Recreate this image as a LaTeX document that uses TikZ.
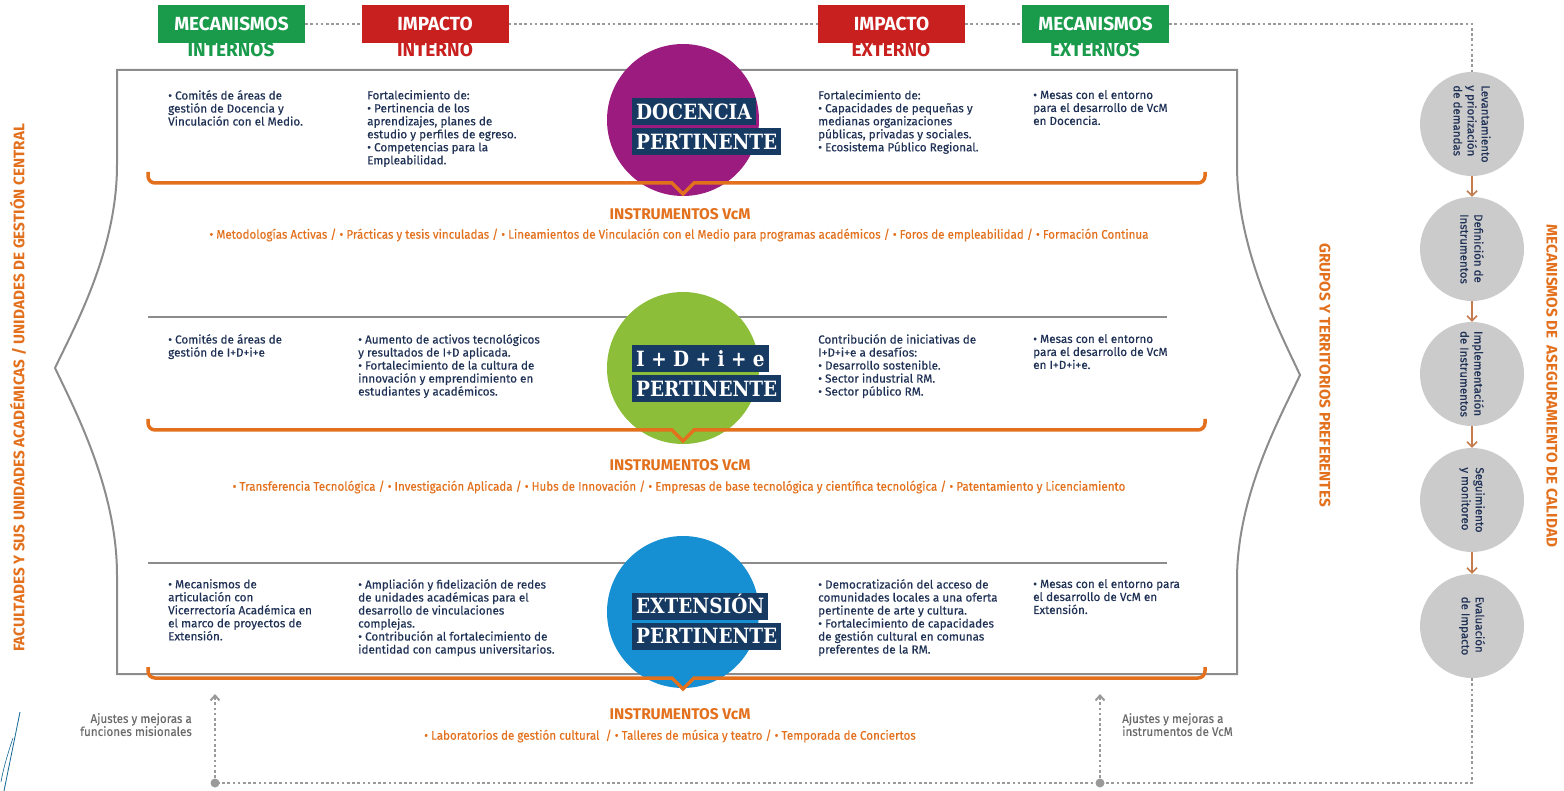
\documentclass[tikz,border=0pt]{standalone}
\usepackage{fontspec}
\setmainfont{Fira Sans}
\newfontfamily\bodyfont[FakeBold=0.4]{Fira Sans}
\newfontfamily\condfont[FakeStretch=0.93,FakeBold=0.3]{Fira Sans}
\newfontfamily\slabfont[FakeStretch=0.88]{DejaVu Serif}
\usetikzlibrary{arrows.meta,positioning}

\definecolor{navyText}{HTML}{1F3155}
\definecolor{tagNavy}{HTML}{173A63}
\definecolor{vcmOrange}{HTML}{E2701D}
\definecolor{greenHdr}{HTML}{1A9A4B}
\definecolor{redHdr}{HTML}{C8201F}
\definecolor{purpleTheme}{HTML}{9C1B7F}
\definecolor{limeTheme}{HTML}{8DBE3A}
\definecolor{blueTheme}{HTML}{1690D3}
\definecolor{stageGrey}{HTML}{CBCBCB}
\definecolor{lineGrey}{HTML}{8C8C8C}
\definecolor{dashGrey}{HTML}{9A9A9A}
\definecolor{noteGrey}{HTML}{6A6A6A}
\definecolor{arrowBrown}{HTML}{C47C4E}

\tikzset{
  hdrbox/.style={minimum width=147pt, minimum height=38pt, inner sep=0pt, text=white,
    font=\fontsize{19}{19}\selectfont\bfseries},
  hdrsub/.style={inner sep=0pt, font=\fontsize{19}{19}\selectfont\bfseries},
  body/.style={anchor=north west, align=left, inner sep=0pt, text=navyText,
    font=\bodyfont\fontsize{11.7}{13}\selectfont},
  theme/.style={circle, minimum size=152pt, inner sep=0pt},
  tag/.style={anchor=west, fill=tagNavy, text=white, inner xsep=4pt, inner ysep=5.75pt,
    text height=15.5pt, text depth=0pt, font=\slabfont\fontsize{21}{21}\selectfont\bfseries},
  vcmhead/.style={text=vcmOrange, inner sep=0pt, font=\fontsize{15.5}{16}\selectfont\bfseries},
  vcmlist/.style={text=vcmOrange, inner sep=0pt, font=\condfont\fontsize{12.5}{13}\selectfont},
  bracket/.style={draw=vcmOrange, line width=3.5pt},
  rowsep/.style={draw=lineGrey, line width=2pt},
  frame/.style={draw=lineGrey, line width=2pt},
  stage/.style={circle, fill=stageGrey, minimum size=104pt, inner sep=0pt, rotate=-90,
    align=left, text=navyText, font=\bodyfont\fontsize{11.5}{14}\selectfont},
  stagearrow/.style={draw=arrowBrown, line width=1.5pt, -{Straight Barb[length=5pt,width=10pt]}},
  dashline/.style={draw=dashGrey, line width=2pt, dash pattern=on 2.6pt off 2.6pt},
  note/.style={text=noteGrey, inner sep=0pt, font=\condfont\fontsize{12.5}{13}\selectfont},
  vlabel/.style={text=vcmOrange, inner sep=0pt, font=\fontsize{15.3}{16}\selectfont\bfseries},
}

\begin{document}
\begin{tikzpicture}[x=1pt, y=-1pt]
    \useasboundingbox (0,0) rectangle (1564,791);
    % headers
    \node[hdrsub, text=greenHdr] (mecIntSub) at (231,49.5) {INTERNOS};
    \node[hdrsub, text=redHdr] (impIntSub) at (435,49.5) {INTERNO};
    \node[hdrsub, text=redHdr] (impExtSub) at (891,49.5) {EXTERNO};
    \node[hdrsub, text=greenHdr] (mecExtSub) at (1095,49.5) {EXTERNOS};
    \node[hdrbox, fill=greenHdr] (mecInt) at (231.5,24) {MECANISMOS};
    \node[hdrbox, fill=redHdr] (impInt) at (435,24) {IMPACTO};
    \node[hdrbox, fill=redHdr] (impExt) at (891.5,24) {IMPACTO};
    \node[hdrbox, fill=greenHdr] (mecExt) at (1095.5,24) {MECANISMOS};
    % frame
    \draw[frame] (117,674) -- (117,575) .. controls (117,490) and (75,410) .. (55,368)
      .. controls (75,326) and (117,250) .. (117,165) -- (117,70) -- (1237,70) -- (1237,165)
      .. controls (1237,250) and (1280,332) .. (1300,375) .. controls (1280,418) and (1237,495) .. (1237,580)
      -- (1237,674) -- cycle;
    \draw[rowsep] (148,317) -- (1167,317);
    \draw[rowsep] (148,563) -- (1167,563);
    % themes
    \node[theme, fill=purpleTheme] (docCirc) at (683,120) {};
    \node[theme, fill=limeTheme] (idiCirc) at (683,368) {};
    \node[theme, fill=blueTheme] (extCirc) at (683,612) {};
    \node[tag] (docTagA) at (632,112) {DOCENCIA};
    \node[tag] (docTagB) at (632,141.5) {PERTINENTE};
    \node[tag] (idiTagA) at (632,359) {I + D + i + e};
    \node[tag] (idiTagB) at (632,389) {PERTINENTE};
    \node[tag] (extTagA) at (632,606) {EXTENSIÓN};
    \node[tag] (extTagB) at (632,636) {PERTINENTE};
    % brackets
    \draw[bracket] (148,172) [rounded corners=7pt] -- (148,183) -- (600,183) [sharp corners] -- (672,183)
      -- (683,194) -- (694,183) -- (800,183) [rounded corners=7pt] -- (1205,183) -- (1205,172);
    \draw[bracket] (148,419) [rounded corners=7pt] -- (148,430) -- (600,430) [sharp corners] -- (672,430)
      -- (683,441) -- (694,430) -- (800,430) [rounded corners=7pt] -- (1205,430) -- (1205,419);
    \draw[bracket] (148,667) [rounded corners=7pt] -- (148,678) -- (600,678) [sharp corners] -- (672,678)
      -- (683,689) -- (694,678) -- (800,678) [rounded corners=7pt] -- (1205,678) -- (1205,667);
    % docencia
    \node[body] (docMecInt) at (168,90) {• Comités de áreas de\\gestión de Docencia y\\Vinculación con el Medio.};
    \node[body] (docImpInt) at (367,90) {Fortalecimiento de:\\• Pertinencia de los\\aprendizajes, planes de\\estudio y perfiles de egreso.\\• Competencias para la\\Empleabilidad.};
    \node[body] (docImpExt) at (818,90) {Fortalecimiento de:\\• Capacidades de pequeñas y\\medianas organizaciones\\públicas, privadas y sociales.\\• Ecosistema Público Regional.};
    \node[body] (docMecExt) at (1033,90) {• Mesas con el entorno\\para el desarrollo de VcM\\en Docencia.};
    \node[vcmhead] (docHead) at (680,214) {INSTRUMENTOS VcM};
    \node[vcmlist] (docList) at (679,235) {• Metodologías Activas / • Prácticas y tesis vinculadas / • Lineamientos de Vinculación con el Medio para programas académicos / • Foros de empleabilidad / • Formación Continua};
    % I+D+i+e
    \node[body] (idiMecInt) at (168,334) {• Comités de áreas de\\gestión de I+D+i+e};
    \node[body] (idiImpInt) at (358,334) {• Aumento de activos tecnológicos\\y resultados de I+D aplicada.\\• Fortalecimiento de la cultura de\\innovación y emprendimiento en\\estudiantes y académicos.};
    \node[body] (idiImpExt) at (818,334) {Contribución de iniciativas de\\I+D+i+e a desafíos:\\• Desarrollo sostenible.\\• Sector industrial RM.\\• Sector público RM.};
    \node[body] (idiMecExt) at (1033,334) {• Mesas con el entorno\\para el desarrollo de VcM\\en I+D+i+e.};
    \node[vcmhead] (idiHead) at (680,465) {INSTRUMENTOS VcM};
    \node[vcmlist] (idiList) at (679,487) {• Transferencia Tecnológica / • Investigación Aplicada / • Hubs de Innovación / • Empresas de base tecnológica y científica tecnológica / • Patentamiento y Licenciamiento};
    % extension
    \node[body] (extMecInt) at (168,579) {• Mecanismos de\\articulación con\\Vicerrectoría Académica en\\el marco de proyectos de\\Extensión.};
    \node[body] (extImpInt) at (358,579) {• Ampliación y fidelización de redes\\de unidades académicas para el\\desarrollo de vinculaciones\\complejas.\\• Contribución al fortalecimiento de\\identidad con campus universitarios.};
    \node[body] (extImpExt) at (818,579) {• Democratización del acceso de\\comunidades locales a una oferta\\pertinente de arte y cultura.\\• Fortalecimiento de capacidades\\de gestión cultural en comunas\\preferentes de la RM.};
    \node[body] (extMecExt) at (1033,579) {• Mesas con el entorno para\\el desarrollo de VcM en\\Extensión.};
    \node[vcmhead] (extHead) at (680,714) {INSTRUMENTOS VcM};
    \node[vcmlist] (extList) at (670,736) {• Laboratorios de gestión cultural~~/ • Talleres de música y teatro / • Temporada de Conciertos};
    % quality cycle
    \node[stage] (s1) at (1472,124) {Levantamiento\\y priorización\\de demandas};
    \node[stage] (s2) at (1472,249) {Definición de\\Instrumentos};
    \node[stage] (s3) at (1472,374) {Implementación\\de Instrumentos};
    \node[stage] (s4) at (1472,500) {Seguimiento\\y monitoreo};
    \node[stage] (s5) at (1472,626) {Evaluación\\de Impacto};
    \draw[stagearrow] (s1) -- (s2);
    \draw[stagearrow] (s2) -- (s3);
    \draw[stagearrow] (s3) -- (s4);
    \draw[stagearrow] (s4) -- (s5);
    % dashed links
    \draw[dashline] (mecInt) -- (impInt);
    \draw[dashline] (impInt) -- (impExt);
    \draw[dashline] (impExt) -- (mecExt);
    \draw[dashline] (mecExt.east) -| (s1.west);
    \coordinate (fbL) at (215,783);
    \coordinate (fbR) at (1100,783);
    \coordinate (fbLtop) at (215,694);
    \coordinate (fbRtop) at (1100,694);
    \draw[dashline] (s5.east) |- (fbL);
    \draw[dashline, -{Straight Barb[length=5pt,width=9pt]}] (fbL) -- (fbLtop);
    \draw[dashline, -{Straight Barb[length=5pt,width=9pt]}] (fbR) -- (fbRtop);
    \fill[dashGrey] (fbL) circle[radius=4.5];
    \fill[dashGrey] (fbR) circle[radius=4.5];
    \node[note, anchor=north east, align=right] (noteL) at (192,713) {Ajustes y mejoras a\\funciones misionales};
    \node[note, anchor=north west, align=left] (noteR) at (1122,713) {Ajustes y mejoras a\\instrumentos de VcM};
    % side labels
    \node[vlabel, rotate=90] (facLabel) at (18,388) {FACULTADES Y SUS UNIDADES ACADÉMICAS / UNIDADES DE GESTIÓN CENTRAL};
    \node[vlabel, rotate=-90] (grpLabel) at (1325,375) {GRUPOS Y TERRITORIOS PREFERENTES};
    \node[vlabel, rotate=-90] (qaLabel) at (1552,386) {MECANISMOS DE~~ASEGURAMIENTO DE CALIDAD};
    % stray stroke
    \draw[blueTheme!70!black, line width=0.8pt] (20,712) .. controls (14,742) and (9,766) .. (4,791);
    \draw[blueTheme!70!black, line width=0.6pt] (13,738) .. controls (7,756) and (3,770) .. (1,782);
\end{tikzpicture}
\end{document}
